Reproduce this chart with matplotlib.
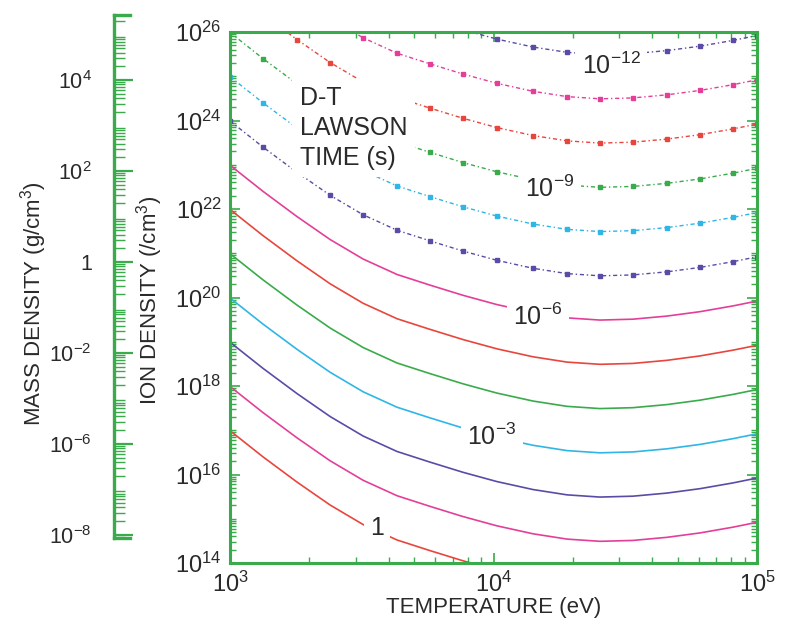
import numpy as np
import matplotlib
matplotlib.use("Agg")
import matplotlib.pyplot as plt
from matplotlib.ticker import LogLocator, FixedLocator, FixedFormatter, NullFormatter

plt.rcParams['font.family'] = ['Liberation Sans', 'DejaVu Sans']
plt.rcParams['mathtext.default'] = 'regular'

# ---- data ----
# base Lawson curve: log10 T (eV) vs log10 (n*tau) (s/cm^3)
base_logT = [3.0, 3.125, 3.254, 3.38, 3.505, 3.634, 3.759, 3.884, 4.013,
             4.15, 4.279, 4.404, 4.529, 4.658, 4.784, 4.909, 5.0]
base_log_ntau = [16.99, 16.40, 15.83, 15.31, 14.87, 14.52, 14.28, 14.05, 13.84,
                 13.66, 13.54, 13.49, 13.51, 13.58, 13.68, 13.81, 13.92]
# Lawson times (s) of the contours, from bottom to top (log10)
tau_exp = [0, -1, -2, -3, -4, -5, -6, -7, -8, -9, -10, -11, -12]
colors = ['#e8463c', '#e43f98', '#5b4ba6', '#2fb6e6', '#3aab4b']

contour_labels = ['1', '$10^{-3}$', '$10^{-6}$', '$10^{-9}$', '$10^{-12}$']
label_px = [(377, 528), (492, 437), (538, 317), (550, 189), (611, 66)]

ion_ticks = [1e14, 1e16, 1e18, 1e20, 1e22, 1e24, 1e26]
ion_labels = ['$10^{14}$', '$10^{16}$', '$10^{18}$', '$10^{20}$', '$10^{22}$', '$10^{24}$', '$10^{26}$']
temp_ticks = [1e3, 1e4, 1e5]
temp_labels = ['$10^{3}$', '$10^{4}$', '$10^{5}$']
mass_ticks = [1e-6, 1e-4, 1e-2, 1, 1e2, 1e4]
mass_labels = ['$10^{-8}$', '$10^{-6}$', '$10^{-2}$', '1', '$10^{2}$', '$10^{4}$']

GREEN = '#3aab4b'
TXT = '#2a2a2a'
FS = 17

W, H = 800, 633
fig = plt.figure(figsize=(W / 100, H / 100), dpi=100)

# main axes: pixel box left 230, right 757, top 32, bottom 563
L, R, T, B = 230, 757, 32, 563
ax = fig.add_axes([L / W, (H - B) / H, (R - L) / W, (B - T) / H])
ax.set_xscale('log')
ax.set_yscale('log')
ax.set_xlim(1e3, 1e5)
ax.set_ylim(1e14, 1e26)

T_vals = 10 ** np.array(base_logT)
ntau = 10 ** np.array(base_log_ntau)
for i, e in enumerate(tau_exp):
    n = ntau / 10.0 ** e
    c = colors[i % len(colors)]
    if e >= -6:
        ax.plot(T_vals, n, color=c, lw=1.2, zorder=2, solid_joinstyle='round')
    else:
        ax.plot(T_vals, n, color=c, lw=1.0, ls=(0, (3, 2, 1, 2)),
                marker='s', ms=2.4, markevery=0.017, zorder=2)

for txt, (px, py) in zip(contour_labels, label_px):
    ax.text((px - L) / (R - L), (B - py) / (B - T), txt, transform=ax.transAxes,
            ha='center', va='center', fontsize=FS + 1, color=TXT, zorder=5,
            bbox=dict(boxstyle='square,pad=0.25', fc='white', ec='none'))

ax.text((300 - L) / (R - L), (B - 128) / (B - T), 'D-T\nLAWSON\nTIME (s)',
        transform=ax.transAxes, ha='left', va='center', fontsize=FS + 1,
        color=TXT, linespacing=1.3, zorder=5,
        bbox=dict(boxstyle='square,pad=0.3', fc='white', ec='none'))

for s in ax.spines.values():
    s.set_color(GREEN)
    s.set_linewidth(2.2)
ax.set_yticks(ion_ticks)
ax.set_yticklabels(ion_labels)
ax.set_xticks(temp_ticks)
ax.set_xticklabels(temp_labels)
ax.yaxis.set_minor_locator(LogLocator(base=10, subs=np.arange(1, 10), numticks=200))
ax.xaxis.set_minor_locator(LogLocator(base=10, subs=np.arange(2, 10), numticks=200))
ax.yaxis.set_minor_formatter(NullFormatter())
ax.xaxis.set_minor_formatter(NullFormatter())
ax.tick_params(which='both', direction='in', color=GREEN, top=True, right=True,
               labelsize=FS, labelcolor=TXT)
ax.tick_params(which='major', length=7, width=1.2, pad=6)
ax.tick_params(which='minor', length=4, width=1.0)
ax.set_xlabel('TEMPERATURE (eV)', fontsize=16, color=TXT, labelpad=0)

fig.text(150 / W, 1 - 300 / H, 'ION DENSITY (/cm$^{3}$)', rotation=90,
         ha='center', va='center', fontsize=16, color=TXT)

# mass density axis: left 114, width 16, top 15, bottom 538
mL, mR, mT, mB = 114, 130, 15, 538
ax2 = fig.add_axes([mL / W, (H - mB) / H, (mR - mL) / W, (mB - mT) / H])
ax2.set_yscale('log')
ax2.set_ylim(10 ** -6.07, 10 ** 5.43)
ax2.set_xticks([])
ax2.yaxis.set_major_locator(FixedLocator(mass_ticks))
ax2.yaxis.set_major_formatter(FixedFormatter(mass_labels))
ax2.yaxis.set_minor_locator(LogLocator(base=10, subs=np.arange(2, 10), numticks=200))
ax2.yaxis.set_minor_formatter(NullFormatter())
ax2.spines['right'].set_visible(False)
for k in ['left', 'top', 'bottom']:
    ax2.spines[k].set_color(GREEN)
    ax2.spines[k].set_linewidth(2.4)
ax2.tick_params(which='both', direction='in', color=GREEN, labelsize=15.5,
                labelcolor=TXT)
ax2.tick_params(which='major', length=14, width=1.6, pad=16)
ax2.tick_params(which='minor', length=8, width=1.0)

fig.text(34 / W, 1 - 304 / H, 'MASS DENSITY (g/cm$^{3}$)', rotation=90,
         ha='center', va='center', fontsize=16, color=TXT)

fig.savefig('out.png', dpi=100)
